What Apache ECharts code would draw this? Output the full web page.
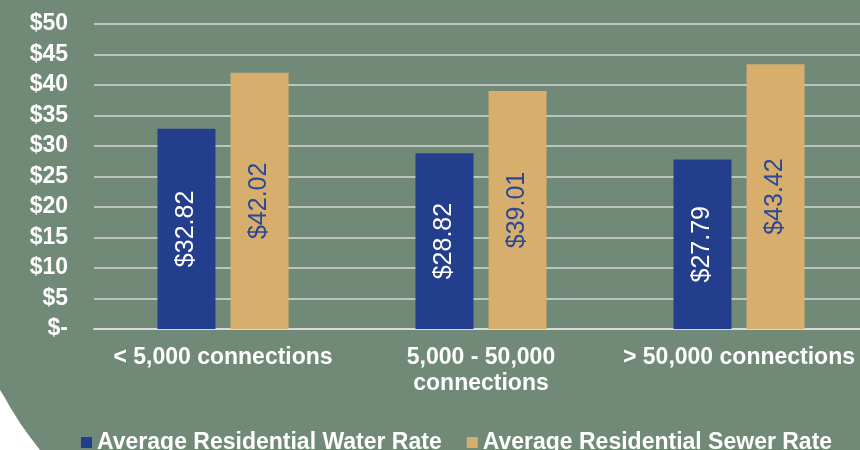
<!DOCTYPE html>
<html>
<head>
<meta charset="utf-8">
<script src="https://cdn.jsdelivr.net/npm/echarts@6/dist/echarts.min.js"></script>
<style>
html,body{margin:0;padding:0;background:#718a78;overflow:hidden;}
#chart{width:868px;height:450px;}
</style>
</head>
<body>
<div id="chart"></div>
<script>
const categories = ['< 5,000 connections', '5,000 - 50,000\nconnections', '> 50,000 connections'];
const waterRates = [32.82, 28.82, 27.79];
const sewerRates = [42.02, 39.01, 43.42];
const seriesNames = ['Average Residential Water Rate', 'Average Residential Sewer Rate'];

const FONT = '"Liberation Sans", Arial, sans-serif';
const chart = echarts.init(document.getElementById('chart'), null, {renderer: 'canvas'});
chart.setOption({
  backgroundColor: '#718a78',
  animation: false,
  textStyle: {fontFamily: FONT},
  graphic: [{
    type: 'polygon',
    silent: true,
    z: -1,
    shape: {points: [[0,390],[5,398],[10,407],[20,423],[30,437],[40,450],[0,450]]},
    style: {fill: '#ffffff'}
  }],
  grid: {left: 94, right: 0, top: 24, bottom: 121, containLabel: false},
  legend: {
    left: 76,
    top: 426,
    itemWidth: 11,
    itemHeight: 11,
    itemGap: 25,
    icon: 'rect',
    textStyle: {color: '#ffffff', fontSize: 23, fontWeight: 'bold', fontFamily: FONT},
    data: seriesNames
  },
  xAxis: {
    type: 'category',
    data: categories,
    axisTick: {show: false},
    axisLine: {lineStyle: {color: '#d9d9d9', width: 2}},
    axisLabel: {color: '#ffffff', fontSize: 23, fontWeight: 'bold', fontFamily: FONT, margin: 16, lineHeight: 26, interval: 0}
  },
  yAxis: {
    type: 'value',
    min: 0,
    max: 50,
    interval: 5,
    axisLine: {show: false},
    axisTick: {show: false},
    splitLine: {lineStyle: {color: '#d9d9d9', width: 1.5}},
    axisLabel: {
      color: '#ffffff', fontSize: 23, fontWeight: 'bold', fontFamily: FONT, margin: 26,
      formatter: v => v === 0 ? '$-' : '$' + v
    }
  },
  series: [{
    name: seriesNames[0],
    type: 'bar',
    data: waterRates,
    barWidth: 58,
    barGap: '26%',
    itemStyle: {color: '#243e8e'},
    label: {
      show: true, position: 'inside', rotate: 90, color: '#ffffff', fontSize: 25, fontFamily: FONT,
      formatter: p => '$' + p.value.toFixed(2)
    }
  }, {
    name: seriesNames[1],
    type: 'bar',
    data: sewerRates,
    barWidth: 58,
    itemStyle: {color: '#d7ae6c'},
    label: {
      show: true, position: 'inside', rotate: 90, color: '#2a4899', fontSize: 25, fontFamily: FONT,
      formatter: p => '$' + p.value.toFixed(2)
    }
  }]
});
</script>
</body>
</html>
